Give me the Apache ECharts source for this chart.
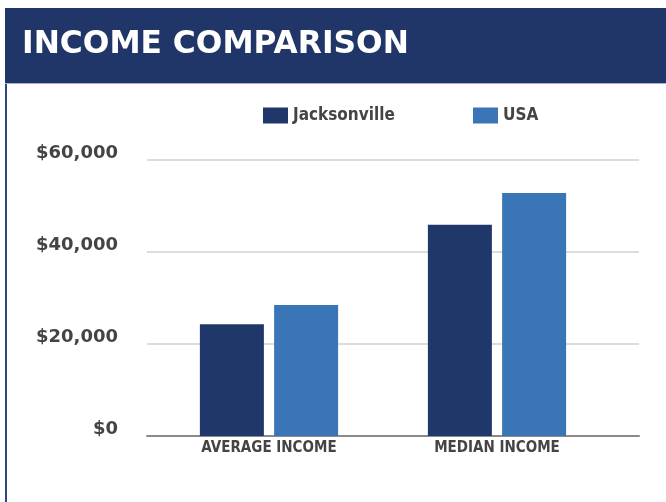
<!DOCTYPE html>
<html>
<head>
<meta charset="utf-8">
<title>Income Comparison</title>
<script src="https://cdn.jsdelivr.net/npm/echarts@6/dist/echarts.min.js"></script>
<style>
  html, body { margin: 0; padding: 0; background: #fff; }
  #chart { width: 666px; height: 502px; }
</style>
</head>
<body>
<div id="chart"></div>
<script>
// data
const categories = ["AVERAGE INCOME", "MEDIAN INCOME"];
const jacksonville = [24300, 45900];
const usa = [28500, 52800];
const yTicks = [0, 20000, 40000, 60000];

const NAVY = "#1f3769";
const BLUE = "#3a75b5";
const LABEL = "#444444";

const chart = echarts.init(document.getElementById("chart"));

const yMin = yTicks[0];
const yMax = yTicks[yTicks.length - 1];
const yStep = yTicks[1] - yTicks[0];
const money = (v) => "$" + v.toLocaleString("en-US");

const legendText = {
  color: LABEL,
  fontFamily: "'Liberation Sans Narrow', 'DejaVu Sans Condensed'",
  fontWeight: "bold",
  fontSize: 17,
};

const options = {
  animation: false,
  backgroundColor: "#fff",
  graphic: [
    // header band
    { type: "rect", shape: { x: 5, y: 8, width: 661, height: 76 }, style: { fill: "#203668" } },
    { type: "rect", shape: { x: 5, y: 83, width: 661, height: 1 }, style: { fill: "#a8b3cc" } },
    // left frame line
    { type: "rect", shape: { x: 5, y: 84, width: 2, height: 418 }, style: { fill: "#2b4785" } },
    {
      type: "text",
      x: 22,
      y: 45,
      style: {
        text: "INCOME COMPARISON",
        fill: "#fff",
        font: "bold 31.3px 'DejaVu Sans'",
        verticalAlign: "middle",
      },
    },
  ],
  legend: [
    {
      left: 263,
      top: 107,
      padding: 0,
      data: ["Jacksonville"],
      icon: "rect",
      itemWidth: 25,
      itemHeight: 16,
      textStyle: legendText,
    },
    {
      left: 473,
      top: 107,
      padding: 0,
      data: ["USA"],
      icon: "rect",
      itemWidth: 25,
      itemHeight: 16,
      textStyle: legendText,
    },
  ],
  grid: [
    // full-width grid for the gridlines and baseline
    { left: 147, right: 27, top: 160, bottom: 66 },
    // narrower grid that places the bar groups
    { left: 155, right: 55, top: 160, bottom: 66 },
  ],
  xAxis: [
    {
      type: "category",
      gridIndex: 0,
      data: categories,
      axisLine: { lineStyle: { color: "#8a8a8a", width: 2 } },
      axisTick: { show: false },
      axisLabel: { show: false },
    },
    {
      type: "category",
      gridIndex: 1,
      data: categories,
      axisLine: { show: false },
      axisTick: { show: false },
      axisLabel: {
        color: LABEL,
        fontFamily: "'DejaVu Sans Condensed', 'DejaVu Sans'",
        fontWeight: "bold",
        fontSize: 15,
        margin: 5,
      },
    },
  ],
  yAxis: [
    {
      type: "value",
      gridIndex: 0,
      min: yMin,
      max: yMax,
      interval: yStep,
      axisLine: { show: false },
      axisTick: { show: false },
      splitLine: { lineStyle: { color: "#dcdcdc", width: 2 } },
      axisLabel: {
        formatter: money,
        color: LABEL,
        fontFamily: "'DejaVu Sans'",
        fontWeight: "bold",
        fontSize: 18,
        margin: 29,
        verticalAlign: "bottom",
        lineHeight: 14,
      },
    },
    {
      type: "value",
      gridIndex: 1,
      min: yMin,
      max: yMax,
      interval: yStep,
      show: false,
    },
  ],
  series: [
    {
      name: "Jacksonville",
      type: "bar",
      xAxisIndex: 1,
      yAxisIndex: 1,
      data: jacksonville,
      barWidth: 64,
      barGap: "16%",
      itemStyle: { color: NAVY },
    },
    {
      name: "USA",
      type: "bar",
      xAxisIndex: 1,
      yAxisIndex: 1,
      data: usa,
      barWidth: 64,
      barGap: "16%",
      itemStyle: { color: BLUE },
    },
  ],
};

chart.setOption(options);

window.addEventListener("resize", () => {
  chart.resize();
});
</script>
</body>
</html>
